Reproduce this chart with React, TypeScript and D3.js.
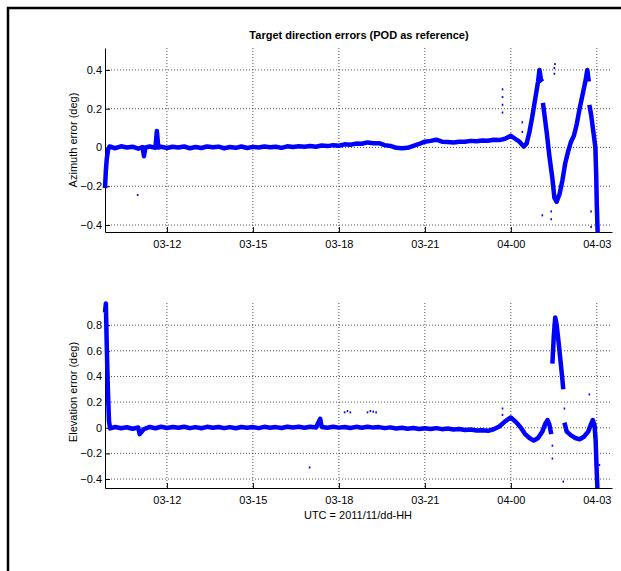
import { useEffect, useRef } from 'react';
import * as d3 from 'd3';

// x values are hours since 2011/11/03 00:00
const xTickHours = [12, 15, 18, 21, 24, 27];
const xTickLabels = ['03-12', '03-15', '03-18', '03-21', '04-00', '04-03'];
const azTicks = [-0.4, -0.2, 0, 0.2, 0.4];
const elTicks = [-0.4, -0.2, 0, 0.2, 0.4, 0.6, 0.8];

const azHours = [
  9.84, 9.87, 9.9, 9.95, 10.0, 10.2, 10.4, 10.6, 10.8, 11.0, 11.15, 11.2, 11.25, 11.4, 11.6, 11.65, 11.7, 11.8,
  12.0, 12.2, 12.4, 12.6, 12.8, 13.0, 13.2, 13.4, 13.6, 13.8, 14.0, 14.2, 14.4, 14.6, 14.8, 15.0, 15.2, 15.4,
  15.6, 15.8, 16.0, 16.2, 16.4, 16.6, 16.8, 17.0, 17.2, 17.4, 17.6, 17.8, 18.0, 18.2, 18.4, 18.6, 18.8, 19.0,
  19.2, 19.4, 19.6, 19.8, 20.0, 20.2, 20.4, 20.6, 20.8, 21.0, 21.2, 21.4, 21.6, 21.8, 22.0, 22.2, 22.4, 22.6,
  22.8, 23.0, 23.2, 23.4, 23.6, 23.8, 24.0, 24.15, 24.3, 24.45, 24.55, 24.65, 24.75, 24.85, 24.95, 25.0, 25.05,
  25.1, 25.11, 25.12, 25.25, 25.35, 25.45, 25.52, 25.6, 25.7, 25.8, 25.9, 26.0, 26.1, 26.2, 26.3, 26.4, 26.5,
  26.6, 26.67, 26.72, 26.73, 26.74, 26.8, 26.88, 26.95, 26.98, 27.0, 27.03,
];
const azValues = [
  -0.21, -0.12, -0.06, -0.01, 0.005, -0.004, 0.006, 0.0, 0.004, -0.006, 0.002, -0.045, 0.0, 0.005, -0.002, 0.085, 0.0, 0.004,
  -0.003, 0.004, 0.0, 0.005, -0.004, 0.002, -0.003, 0.005, 0.001, 0.004, -0.004, 0.002, -0.002, 0.005, -0.003, 0.003, 0.0, 0.005,
  0.001, 0.004, -0.002, 0.006, 0.002, 0.006, 0.004, 0.008, 0.004, 0.01, 0.007, 0.012, 0.009, 0.016, 0.014, 0.02, 0.019, 0.026,
  0.022, 0.022, 0.012, 0.008, -0.002, -0.004, -0.002, 0.008, 0.018, 0.03, 0.034, 0.04, 0.03, 0.028, 0.026, 0.03, 0.03, 0.034,
  0.032, 0.036, 0.035, 0.04, 0.038, 0.045, 0.06, 0.045, 0.03, 0.005, 0.02, 0.08, 0.16, 0.25, 0.34, 0.4, 0.35,
  0.34, null, 0.23, 0.08, -0.05, -0.16, -0.26, -0.28, -0.24, -0.17, -0.08, -0.02, 0.03, 0.06, 0.12, 0.2, 0.27,
  0.34, 0.4, 0.34, null, 0.22, 0.17, 0.08, 0.0, -0.15, -0.3, -0.44,
];
const azDotHours = [10.98, 23.71, 23.71, 23.71, 23.71, 24.4, 24.4, 25.52, 25.52, 25.54, 25.1, 25.41, 25.41, 26.8, 26.8];
const azDotValues = [-0.245, 0.18, 0.22, 0.26, 0.3, 0.08, 0.13, 0.38, 0.41, 0.43, -0.35, -0.33, -0.37, -0.33, -0.41];

const elHours = [
  9.84, 9.87, 9.9, 9.94, 9.98, 10.02, 10.2, 10.4, 10.6, 10.8, 11.0, 11.05, 11.2, 11.4, 11.6, 11.8, 12.0, 12.2,
  12.4, 12.6, 12.8, 13.0, 13.2, 13.4, 13.6, 13.8, 14.0, 14.2, 14.4, 14.6, 14.8, 15.0, 15.2, 15.4, 15.6, 15.8,
  16.0, 16.2, 16.4, 16.6, 16.8, 17.0, 17.2, 17.35, 17.4, 17.6, 17.8, 18.0, 18.2, 18.4, 18.6, 18.8, 19.0, 19.2,
  19.4, 19.6, 19.8, 20.0, 20.2, 20.4, 20.6, 20.8, 21.0, 21.2, 21.4, 21.6, 21.8, 22.0, 22.2, 22.4, 22.6, 22.8,
  23.0, 23.2, 23.4, 23.6, 23.8, 24.0, 24.2, 24.35, 24.5, 24.65, 24.8, 24.95, 25.1, 25.2, 25.28, 25.34, 25.41,
  25.42, 25.45, 25.5, 25.55, 25.6, 25.66, 25.72, 25.78, 25.83, 25.85, 25.87, 25.95, 26.1, 26.25, 26.4, 26.55,
  26.7, 26.8, 26.86, 26.92, 26.96, 26.99, 27.02,
];
const elValues = [
  0.9, 0.97, 0.65, 0.3, 0.05, -0.005, 0.006, -0.004, 0.004, -0.008, 0.002, -0.05, -0.01, 0.006, -0.004, 0.008, -0.002, 0.006,
  0.0, 0.008, -0.003, 0.005, -0.004, 0.007, 0.0, 0.006, -0.003, 0.005, -0.004, 0.006, 0.0, 0.005, -0.003, 0.007, 0.0, 0.005,
  -0.002, 0.008, 0.002, 0.007, 0.0, 0.008, 0.002, 0.07, 0.006, 0.0, 0.008, 0.001, 0.006, -0.002, 0.007, 0.0, 0.008, 0.001,
  0.005, -0.003, 0.003, -0.006, 0.0, -0.008, -0.002, -0.01, -0.004, -0.01, -0.003, -0.011, -0.006, -0.014, -0.01, -0.018, -0.014, -0.022,
  -0.02, -0.024, -0.012, 0.01, 0.05, 0.08, 0.04, 0.0, -0.05, -0.08, -0.1, -0.08, -0.03, 0.03, 0.06, 0.03, -0.05,
  null, 0.5, 0.72, 0.86, 0.8, 0.68, 0.55, 0.42, 0.3, null, 0.04, -0.03, -0.06, -0.08, -0.09, -0.07,
  -0.03, 0.03, 0.06, 0.02, -0.1, -0.3, -0.47,
];
const elDotHours = [18.2, 18.3, 18.4, 19.0, 19.1, 19.2, 19.3, 16.98, 23.71, 23.71, 25.45, 25.45, 25.83, 26.74, 27.09, 25.87];
const elDotValues = [0.12, 0.13, 0.12, 0.12, 0.13, 0.125, 0.12, -0.31, 0.1, 0.15, -0.24, -0.14, -0.42, 0.26, -0.29, 0.15];

const font = '"Liberation Sans", Arial, sans-serif';
const BLUE = '#0000ff';

const App = () => {
  const svgRef = useRef<SVGSVGElement | null>(null);
  const width = 621;
  const height = 571;

  useEffect(() => {
    const svg = d3.select(svgRef.current);
    svg.selectAll('*').remove();

    svg.append('rect').attr('width', width).attr('height', height).attr('fill', '#fff');

    // figure frame (top and left edges only visible)
    svg.append('line').attr('x1', 7).attr('x2', width).attr('y1', 8).attr('y2', 8)
      .attr('stroke', '#000').attr('stroke-width', 2.5);
    svg.append('line').attr('x1', 8).attr('x2', 8).attr('y1', 7).attr('y2', height)
      .attr('stroke', '#000').attr('stroke-width', 2.5);

    const x = d3.scaleLinear().domain([9.84, 27.53]).range([105, 612]);

    const panels = [
      {
        y: d3.scaleLinear().domain([-0.436, 0.513]).range([232, 48]),
        ticks: azTicks, hours: azHours, values: azValues,
        dotHours: azDotHours, dotValues: azDotValues,
        label: 'Azimuth error (deg)', labelY: 140,
      },
      {
        y: d3.scaleLinear().domain([-0.47, 0.973]).range([488, 303]),
        ticks: elTicks, hours: elHours, values: elValues,
        dotHours: elDotHours, dotValues: elDotValues,
        label: 'Elevation error (deg)', labelY: 392,
      },
    ];

    panels.forEach((p) => {
      const [yb, yt] = p.y.range();
      const g = svg.append('g');

      // dotted grid
      g.selectAll('.vgrid').data(xTickHours).enter().append('line')
        .attr('x1', (d) => x(d)).attr('x2', (d) => x(d))
        .attr('y1', yt).attr('y2', yb)
        .attr('stroke', '#222').attr('stroke-width', 0.8).attr('stroke-dasharray', '1,2');
      g.selectAll('.hgrid').data(p.ticks).enter().append('line')
        .attr('x1', x.range()[0]).attr('x2', x.range()[1])
        .attr('y1', (d) => p.y(d)).attr('y2', (d) => p.y(d))
        .attr('stroke', '#222').attr('stroke-width', 0.8).attr('stroke-dasharray', '1,2');

      // axes, ticks pointing inward
      const xAxis = g.append('g')
        .attr('transform', `translate(0,${yb})`)
        .call(d3.axisBottom(x).tickValues(xTickHours)
          .tickFormat((d, i) => xTickLabels[i]).tickSizeInner(-5).tickSizeOuter(0).tickPadding(8));
      const yAxis = g.append('g')
        .attr('transform', `translate(${x.range()[0]},0)`)
        .call(d3.axisLeft(p.y).tickValues(p.ticks)
          .tickFormat((d) => (d === 0 ? '0' : d3.format('.1f')(d as number)))
          .tickSizeInner(-5).tickSizeOuter(0).tickPadding(3));
      [xAxis, yAxis].forEach((a) => {
        a.selectAll('.domain, .tick line').attr('stroke', '#000').attr('stroke-width', 1);
        a.selectAll('text').style('font-family', font).style('font-size', '11px').attr('fill', '#000');
      });

      g.append('text')
        .attr('transform', `translate(77,${p.labelY}) rotate(-90)`)
        .attr('text-anchor', 'middle')
        .style('font-family', font).style('font-size', '11px')
        .text(p.label);

      // series
      const pts = p.hours.map((h, i) => ({ h, v: p.values[i] }));
      const line = d3.line<{ h: number; v: number | null }>()
        .defined((d) => d.v !== null)
        .x((d) => x(d.h))
        .y((d) => p.y(d.v as number));
      g.append('path').datum(pts)
        .attr('d', line)
        .attr('fill', 'none').attr('stroke', BLUE)
        .attr('stroke-width', 4.5).attr('stroke-linejoin', 'round');

      g.selectAll('.dot').data(p.dotHours).enter().append('rect')
        .attr('x', (d) => x(d) - 0.8).attr('y', (d, i) => p.y(p.dotValues[i]) - 1)
        .attr('width', 1.6).attr('height', 2).attr('fill', BLUE);
    });

    svg.append('text')
      .attr('x', 359).attr('y', 39)
      .attr('text-anchor', 'middle')
      .style('font-family', font).style('font-size', '11px').style('font-weight', 'bold')
      .text('Target direction errors (POD as reference)');

    svg.append('text')
      .attr('x', 358).attr('y', 519)
      .attr('text-anchor', 'middle')
      .style('font-family', font).style('font-size', '11px')
      .text('UTC = 2011/11/dd-HH');
  }, []);

  return (
    <svg ref={svgRef} width={width} height={height}
      style={{ position: 'absolute', left: 0, top: 0, display: 'block' }} />
  );
};

export default App;
